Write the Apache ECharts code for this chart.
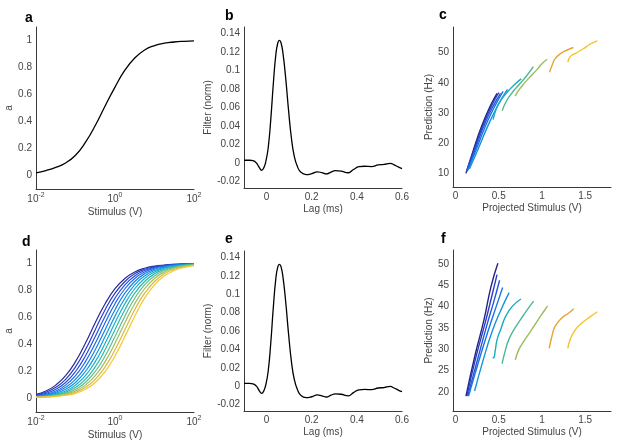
<!DOCTYPE html>
<html>
<head>
<meta charset="utf-8">
<title>Figure a-f</title>
<script src="https://cdn.jsdelivr.net/npm/echarts@6/dist/echarts.min.js"></script>
<style>html,body{margin:0;padding:0;background:#fff;}</style>
</head>
<body>
<div id="main" style="width:617px;height:445px;"></div>
<script>
var FONT = 'Liberation Sans, Arial, Helvetica, sans-serif';
var AXIS = '#3a3a3a';
var LABEL = '#444';

// panels a, d : stimulus (V) on a log axis
var stimulus = [0.01, 0.0178, 0.0316, 0.0562, 0.1, 0.178, 0.316, 0.562, 1,
                1.78, 3.16, 5.62, 10, 17.8, 31.6, 56.2, 100];
var activation = [0.02, 0.037, 0.06, 0.093, 0.15, 0.245, 0.37, 0.515, 0.655,
                  0.78, 0.87, 0.93, 0.962, 0.98, 0.989, 0.994, 0.997];
var activationFamily = [
  [.031,.056,.099,.169,.273,.409,.561,.702,.813,.889,.937,.965,.981,.989,.994,.997,.998],
  [.026,.046,.083,.142,.234,.361,.510,.658,.780,.867,.924,.957,.976,.987,.993,.996,.998],
  [.021,.038,.068,.119,.200,.315,.459,.610,.743,.842,.908,.948,.971,.984,.991,.995,.997],
  [.018,.031,.056,.099,.169,.273,.409,.561,.702,.813,.889,.937,.965,.981,.989,.994,.997],
  [.016,.026,.046,.083,.142,.234,.361,.510,.658,.780,.867,.924,.957,.976,.987,.993,.996],
  [.014,.022,.038,.068,.119,.200,.315,.459,.610,.743,.842,.908,.948,.971,.984,.991,.995],
  [.012,.019,.031,.056,.099,.169,.273,.409,.561,.702,.813,.889,.937,.965,.981,.989,.994],
  [.011,.017,.027,.046,.083,.142,.234,.361,.510,.658,.780,.867,.924,.957,.976,.987,.993],
  [.011,.015,.023,.038,.068,.119,.200,.315,.459,.610,.743,.842,.908,.948,.971,.984,.991],
  [.010,.013,.020,.032,.056,.099,.169,.273,.409,.561,.702,.813,.889,.937,.965,.981,.989],
  [.010,.012,.018,.028,.046,.083,.142,.234,.361,.510,.658,.780,.867,.924,.957,.976,.987],
  [.009,.011,.016,.024,.038,.068,.119,.200,.315,.459,.610,.743,.842,.908,.948,.971,.984]
];
var familyColors = ['#2b2a9a','#2a3cc4','#2452dc','#1f69e6','#1982e2','#1499d9',
                    '#16adca','#2fb8aa','#62bd86','#a0bd5c','#d9b745','#f4c72e'];

// panels b, e : filter
var lag = [-0.1,-0.075,-0.06,-0.045,-0.032,-0.022,-0.012,-0.003,0.007,0.018,0.03,0.041,
           0.05,0.057,0.064,0.073,0.085,0.097,0.11,0.123,0.137,0.152,0.175,0.2,0.225,
           0.245,0.265,0.285,0.305,0.33,0.362,0.385,0.41,0.435,0.465,0.495,0.52,0.548,
           0.565,0.585,0.6];
var filterNorm = [0.003,0.003,0.0025,0,-0.005,-0.0078,-0.005,0.002,0.016,0.045,0.086,0.117,
                  0.13,0.1325,0.13,0.118,0.091,0.058,0.027,0.007,-0.004,-0.010,-0.0125,-0.0115,-0.0095,
                  -0.0105,-0.0118,-0.0098,-0.0083,-0.0088,-0.0105,-0.007,-0.004,-0.0035,-0.0038,-0.002,-0.0015,-0.0003,
                  -0.002,-0.0045,-0.006];

// panels c, f : [projected stimulus (V), prediction (Hz)]
var predictionC = [
  [[0.12,10],[0.2,17.2],[0.3,25.5],[0.4,32.2],[0.48,36.5]],
  [[0.125,10.5],[0.21,17.5],[0.31,25.5],[0.41,32],[0.5,36.8]],
  [[0.13,10.8],[0.22,17.5],[0.32,25.2],[0.42,31.5],[0.52,36.5]],
  [[0.14,11],[0.24,18],[0.34,25.3],[0.44,31.5],[0.55,37.2]],
  [[0.16,11.5],[0.26,18],[0.37,25.5],[0.48,32],[0.6,37.8]],
  [[0.435,27.8],[0.46,30.5],[0.5,33.2],[0.56,35.6],[0.62,37.6],[0.69,39.6],[0.76,41.3]],
  [[0.54,30.8],[0.58,33.5],[0.63,35.8],[0.69,38],[0.76,40.2],[0.83,42.6],[0.9,45.4]],
  [[0.69,35.6],[0.73,37.5],[0.8,40],[0.87,42.2],[0.94,44.3],[1.0,46.3],[1.06,47.8]],
  [[1.088,43.5],[1.12,46],[1.153,48],[1.211,49.6],[1.288,50.8],[1.365,51.7]],
  [[1.3,46.9],[1.326,48.6],[1.384,49.7],[1.48,51.3],[1.557,52.8],[1.642,53.9]]
];
var predictionF = [
  [[0.12,19],[0.23,29],[0.33,37],[0.41,44.7],[0.49,50.2]],
  [[0.13,19],[0.24,28.5],[0.34,36],[0.42,42.5],[0.48,47.5]],
  [[0.14,19],[0.26,28],[0.36,35.5],[0.44,41],[0.51,46.2]],
  [[0.15,19],[0.28,28],[0.38,34.5],[0.47,40],[0.545,44.5]],
  [[0.22,20.2],[0.32,27.5],[0.42,34],[0.52,39],[0.62,43.3]],
  [[0.43,28.1],[0.44,28.0],[0.46,29.8],[0.48,32.2],[0.52,34.5],[0.577,37.6],[0.654,40],[0.757,41.8]],
  [[0.538,26.6],[0.577,29.8],[0.615,32.2],[0.673,34.5],[0.75,36.9],[0.827,39.2],[0.904,41.3]],
  [[0.692,27.5],[0.73,29.8],[0.788,31.8],[0.865,34.1],[0.942,36.5],[1.019,38.8],[1.065,40.2]],
  [[1.084,30.2],[1.115,33],[1.15,35.3],[1.227,37.3],[1.304,38.4],[1.37,39.5]],
  [[1.3,30.2],[1.326,32.2],[1.384,34.5],[1.46,36.1],[1.557,37.6],[1.642,38.8]]
];
var curveColors = ['#26237f','#2c3cc0','#2356d8','#1b73e2','#1592dc',
                   '#18acc0','#4cb894','#9cbc5c','#e6a436','#f3c52b'];

// tick labels
var activationTicks = [0, 0.2, 0.4, 0.6, 0.8, 1];
var filterTicks = [-0.02, 0, 0.02, 0.04, 0.06, 0.08, 0.1, 0.12, 0.14];
var lagTicks = [0, 0.2, 0.4, 0.6];
var projTicks = [0, 0.5, 1, 1.5];
var predTicksC = [10, 20, 30, 40, 50];
var predTicksF = [20, 25, 30, 35, 40, 45, 50];

var myChart = echarts.init(document.getElementById('main'));

function label(extra) {
    var o = {color: LABEL, fontSize: 10, fontFamily: FONT, margin: 4};
    for (var k in extra) o[k] = extra[k];
    return o;
}
function baseAxis(grid, name, gap, min, max) {
    return {
        gridIndex: grid, type: 'value', min: min, max: max,
        name: name, nameLocation: 'middle', nameGap: gap,
        nameTextStyle: {color: LABEL, fontSize: 10, fontFamily: FONT},
        axisLine: {onZero: false, lineStyle: {color: AXIS, width: 1}},
        axisTick: {show: false},
        splitLine: {show: false}
    };
}
function valAxis(grid, name, gap, min, max, ticks) {
    var ax = baseAxis(grid, name, gap, min, max);
    ax.axisLabel = label({customValues: ticks});
    return ax;
}
function logAxis(grid) {
    var ax = baseAxis(grid, 'Stimulus (V)', 17, 0.01, 100);
    ax.type = 'log';
    ax.logBase = 10;
    ax.axisLabel = label({
        margin: 3, lineHeight: 14,
        formatter: function (v) {
            var e = Math.round(Math.log(v) / Math.LN10);
            return e % 2 === 0 ? '10{sup|' + e + '}' : '';
        },
        rich: {sup: {fontSize: 7, lineHeight: 8, verticalAlign: 'top', color: LABEL, fontFamily: FONT}}
    });
    return ax;
}
function line(grid, data, color, width) {
    return {
        type: 'line', xAxisIndex: grid, yAxisIndex: grid, data: data,
        smooth: true, symbol: 'none', clip: true,
        lineStyle: {color: color, width: width}, animation: false
    };
}

var series = [];
series.push(line(0, stimulus.map(function (s, i) { return [s, activation[i]]; }), '#000', 1.3));
var filterPts = lag.map(function (t, i) { return [t, filterNorm[i]]; });
series.push(line(1, filterPts, '#000', 1.3));
predictionC.forEach(function (c, k) { series.push(line(2, c, curveColors[k], 1.4)); });
activationFamily.forEach(function (f, k) {
    series.push(line(3, stimulus.map(function (s, i) { return [s, f[i]]; }), familyColors[k], 1.2));
});
series.push(line(4, filterPts, '#000', 1.3));
predictionF.forEach(function (c, k) { series.push(line(5, c, curveColors[k], 1.4)); });

function letter(t, x, y) {
    return {type: 'text', left: x, top: y,
            style: {text: t, fill: '#000', font: 'bold 14px ' + FONT}};
}

var option = {
    backgroundColor: '#fff',
    animation: false,
    grid: [
        {left: 36, top: 27, width: 158, height: 162, outerBoundsMode: 'none'},
        {left: 244, top: 27, width: 158, height: 161, outerBoundsMode: 'none'},
        {left: 453, top: 27, width: 158, height: 160, outerBoundsMode: 'none'},
        {left: 36, top: 250, width: 158, height: 162, outerBoundsMode: 'none'},
        {left: 244, top: 251, width: 158, height: 160, outerBoundsMode: 'none'},
        {left: 453, top: 250, width: 158, height: 161, outerBoundsMode: 'none'}
    ],
    xAxis: [
        logAxis(0),
        valAxis(1, 'Lag (ms)', 16, -0.1, 0.6, lagTicks),
        valAxis(2, 'Projected Stimulus (V)', 16, -0.03, 1.8, projTicks),
        logAxis(3),
        valAxis(4, 'Lag (ms)', 16, -0.1, 0.6, lagTicks),
        valAxis(5, 'Projected Stimulus (V)', 16, -0.03, 1.8, projTicks)
    ],
    yAxis: [
        valAxis(0, 'a', 20, -0.1, 1.1, activationTicks),
        valAxis(1, 'Filter (norm)', 31, -0.027, 0.147, filterTicks),
        valAxis(2, 'Prediction (Hz)', 19, 5.5, 58.5, predTicksC),
        valAxis(3, 'a', 20, -0.1, 1.1, activationTicks),
        valAxis(4, 'Filter (norm)', 31, -0.027, 0.147, filterTicks),
        valAxis(5, 'Prediction (Hz)', 19, 15.5, 53.3, predTicksF)
    ],
    graphic: [
        letter('a', 25, 11), letter('b', 225, 9), letter('c', 439, 8.5),
        letter('d', 22, 235), letter('e', 225, 232.5), letter('f', 441, 232.5)
    ],
    series: series
};
myChart.setOption(option);
</script>
</body>
</html>
